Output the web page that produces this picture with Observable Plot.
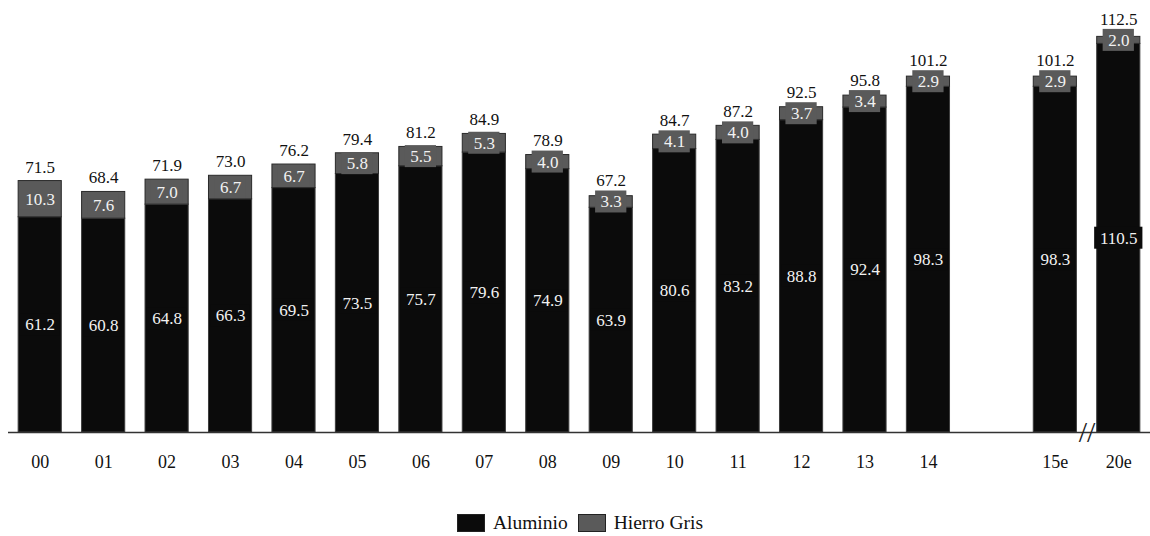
<!DOCTYPE html>
<html>
<head>
<meta charset="utf-8">
<script src="https://cdn.jsdelivr.net/npm/d3@7"></script>
<script src="https://cdn.jsdelivr.net/npm/@observablehq/plot@0.6"></script>
<style>
  html, body { margin: 0; padding: 0; background: #fff; }
  #chart { width: 1150px; }
  .legend { display: flex; justify-content: center; align-items: center; padding-top: 22px; padding-left: 20px;
            font-family: 'Liberation Serif'; font-size: 19.5px; color: #111; }
  .sw { width: 26px; height: 16px; border: 1px solid #222; display: inline-block; margin-right: 8px; }
  .item { display: flex; align-items: center; margin-right: 10px; }
</style>
</head>
<body>
<div id="chart"></div>
<div class="legend">
  <span class="item"><span class="sw" style="background:#0b0b0b"></span>Aluminio</span>
  <span class="item"><span class="sw" style="background:#5a5a5a"></span>Hierro Gris</span>
</div>
<script>
const years = ["00","01","02","03","04","05","06","07","08","09","10","11","12","13","14","15e","20e"];
const aluminio = [61.2,60.8,64.8,66.3,69.5,73.5,75.7,79.6,74.9,63.9,80.6,83.2,88.8,92.4,98.3,98.3,110.5];
const hierroGris = [10.3,7.6,7.0,6.7,6.7,5.8,5.5,5.3,4.0,3.3,4.1,4.0,3.7,3.4,2.9,2.9,2.0];
const totals = [71.5,68.4,71.9,73.0,76.2,79.4,81.2,84.9,78.9,67.2,84.7,87.2,92.5,95.8,101.2,101.2,112.5];

const GAP = " ";
const slots = [...years.slice(0, 15), GAP, ...years.slice(15)];

const rows = years.map((year, i) => ({
  year, al: aluminio[i], hi: hierroGris[i], total: totals[i],
  alLabel: aluminio[i].toFixed(1), hiLabel: hierroGris[i].toFixed(1), totLabel: totals[i].toFixed(1)
}));

const W = 1150, H = 490, mTop = 10, mBottom = 58, mLeft = 8, mRight = 0;
const yMax = 120;
const pxPerUnit = (H - mTop - mBottom) / yMax;
const boxHalf = 11 / pxPerUnit;
const step = (W - mLeft - mRight) / slots.length;
const bandW = step * 0.68;
const fs = 17;
const boxWidth = (s) => (s.length - 1) * fs * 0.5 + fs * 0.25 + 10;
const font = "Liberation Serif";

function labelBoxes(key, midFn, fill) {
  const lens = [...new Set(rows.map(d => d[key].length))];
  return lens.map(len => {
    const inset = (bandW - boxWidth("x".repeat(len))) / 2;
    return Plot.barY(rows.filter(d => d[key].length === len), {
      x: "year", y1: d => midFn(d) - boxHalf, y2: d => midFn(d) + boxHalf,
      fill, insetLeft: inset, insetRight: inset
    });
  });
}
const midAl = d => d.al / 2;
const midHi = d => d.al + (d.total - d.al) / 2;
const totY = d => Math.max(d.total + 14 / pxPerUnit, midHi(d) + boxHalf + 10 / pxPerUnit);

const chart = Plot.plot({
  width: W, height: H,
  marginTop: mTop, marginBottom: mBottom, marginLeft: mLeft, marginRight: mRight,
  style: { fontFamily: font, background: "#fff" },
  x: { type: "band", domain: slots, paddingInner: 0.32, paddingOuter: 0.16, align: 0.5, round: false, label: null },
  y: { domain: [0, yMax], nice: false, axis: null },
  marks: [
    Plot.barY(rows, { x: "year", y1: 0, y2: "al", fill: "#0b0b0b", stroke: "#3c3c3c", strokeWidth: 1 }),
    Plot.barY(rows, { x: "year", y1: "al", y2: "total", fill: "#5a5a5a", stroke: "#2a2a2a", strokeWidth: 1 }),
    ...labelBoxes("alLabel", midAl, "#0b0b0b"),
    ...labelBoxes("hiLabel", midHi, "#5a5a5a"),
    Plot.text(rows, { x: "year", y: midAl, text: "alLabel", fill: "#f2f2f2", fontSize: fs, lineAnchor: "middle", fontFamily: font }),
    Plot.text(rows, { x: "year", y: midHi, text: "hiLabel", fill: "#f2f2f2", fontSize: fs, lineAnchor: "middle", fontFamily: font }),
    Plot.text(rows, { x: "year", y: totY, text: "totLabel", fill: "#111", fontSize: fs, lineAnchor: "middle", fontFamily: font }),
    Plot.ruleY([0], { stroke: "#333", strokeWidth: 1.5 }),
    Plot.axisX({ ticks: years, tickSize: 0, tickPadding: 23, fontSize: 18, fill: "#111", label: null, fontFamily: font }),
    Plot.text(["//"], { x: () => "20e", y: () => 0, text: d => d, dx: -step / 2, fontSize: 30, fill: "#222", lineAnchor: "middle", fontFamily: font })
  ]
});
document.getElementById("chart").appendChild(chart);
</script>
</body>
</html>
